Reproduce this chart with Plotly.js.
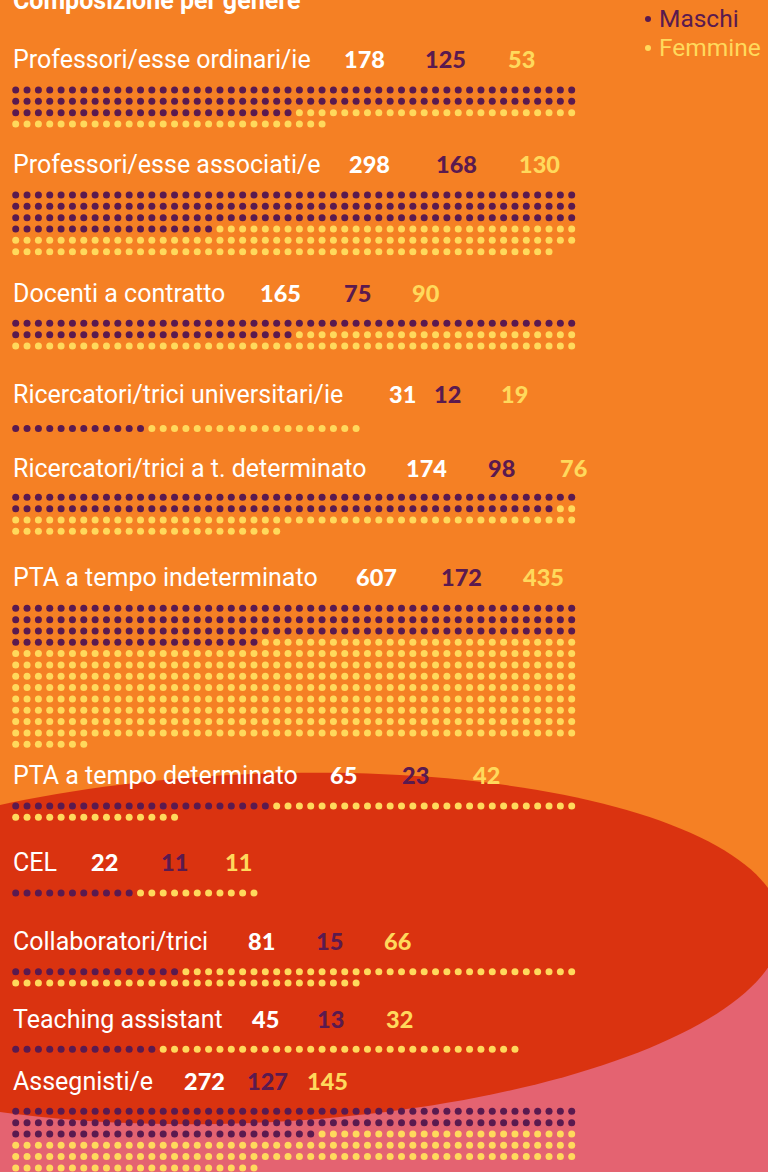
<!DOCTYPE html>
<html>
<head>
<meta charset="utf-8">
<script src="https://cdn.plot.ly/plotly-3.0.1.min.js"></script>
<style>
  html, body { margin: 0; padding: 0; background: #F58024; }
  #chart { width: 768px; height: 1172px; }
</style>
</head>
<body>
<div id="chart"></div>
<script>
// ---------- data ----------
const categories = [
  "Professori/esse ordinari/ie",
  "Professori/esse associati/e",
  "Docenti a contratto",
  "Ricercatori/trici universitari/ie",
  "Ricercatori/trici a t. determinato",
  "PTA a tempo indeterminato",
  "PTA a tempo determinato",
  "CEL",
  "Collaboratori/trici",
  "Teaching assistant",
  "Assegnisti/e"
];
const totali  = [178, 298, 165, 31, 174, 607, 65, 22, 81, 45, 272];
const maschi  = [125, 168, 75, 12, 98, 172, 23, 11, 15, 13, 127];
const femmine = [53, 130, 90, 19, 76, 435, 42, 11, 66, 32, 145];
// dots as drawn in the picture (Docenti a contratto shows only 75 yellow dots)
const dotMaschi  = [125, 168, 75, 12, 98, 172, 23, 11, 15, 13, 127];
const dotFemmine = [53, 130, 75, 19, 76, 435, 42, 11, 66, 32, 145];
const legendLabels = ["Maschi", "Femmine"];
const titleText = "Composizione per genere";

// ---------- layout constants (pixels) ----------
const W = 768, H = 1172;
const COLS = 50, DX = 11.347, DY = 11.33, X0 = 15.7;
const labelY = [59, 164, 293, 394, 468, 577, 775, 862, 941, 1019, 1081];
const dotY0  = [90, 195, 323.3, 428.5, 497.3, 608.3, 806, 893, 971.7, 1049.3, 1111.3];
const numX = [[343,424,507],[348,435,518],[259,343,411],[388,433,500],[405,487,559],
              [355,440,522],[329,401,472],[90,160,224],[247,315,383],[251,316,385],[183,246,306]];

const C_ORANGE = "#F58024", C_RED = "#DA3310", C_PINK = "#E46371";
const C_PURPLE = "#5A1A4F", C_YELLOW = "#FFD95C", C_WHITE = "#FFFFFF";

// ---------- dots ----------
const mx = [], my = [], fx = [], fy = [];
categories.forEach((c, i) => {
  const n = dotMaschi[i] + dotFemmine[i];
  for (let k = 0; k < n; k++) {
    const col = k % COLS, row = Math.floor(k / COLS);
    const x = X0 + col * DX, y = dotY0[i] + row * DY;
    if (k < dotMaschi[i]) { mx.push(x); my.push(y); } else { fx.push(x); fy.push(y); }
  }
});

const traces = [
  { type: "scatter", mode: "markers", x: mx, y: my, name: legendLabels[0],
    marker: { color: C_PURPLE, size: 7, line: { width: 0 } }, hoverinfo: "skip" },
  { type: "scatter", mode: "markers", x: fx, y: fy, name: legendLabels[1],
    marker: { color: C_YELLOW, size: 7, line: { width: 0 } }, hoverinfo: "skip" },
  // legend glyphs
  { type: "scatter", mode: "markers", x: [648, 648], y: [19, 48],
    marker: { color: [C_PURPLE, C_YELLOW], size: 6, line: { width: 0 } }, hoverinfo: "skip" }
];

// ---------- background shapes ----------
function ellipsePath() {
  const cx = 252, a = 530, b = 174.5;
  let d = "";
  for (let j = 0; j <= 200; j++) {
    const t = j / 200 * 2 * Math.PI;
    const x = cx + a * Math.cos(t);
    const y = 958.5 - 0.04 * x + b * Math.sin(t);
    d += (j === 0 ? "M" : "L") + x.toFixed(2) + "," + y.toFixed(2);
  }
  return d + "Z";
}
const shapes = [
  { type: "rect", xref: "x", yref: "y", x0: -20, x1: W + 20, y0: 930, y1: H + 20,
    fillcolor: C_PINK, line: { width: 0 }, layer: "below" },
  { type: "path", xref: "x", yref: "y", path: ellipsePath(),
    fillcolor: C_RED, line: { width: 0 }, layer: "below" }
];

// ---------- text ----------
const LABEL_FONT = { family: "Roboto, sans-serif", size: 25, color: C_WHITE, weight: 400 };
const NUM_FONT = { family: "Lato, sans-serif", size: 23.5, weight: 900 };
const annotations = [];
annotations.push({ xref: "paper", yref: "paper", x: 11 / W, y: 1, xanchor: "left", yanchor: "middle",
  text: titleText, showarrow: false, yshift: 0,
  font: { family: "Roboto, sans-serif", size: 25, color: C_WHITE, weight: 700 } });
categories.forEach((c, i) => {
  annotations.push({ xref: "x", yref: "y", x: 11, y: labelY[i], xanchor: "left", yanchor: "middle",
    text: c, showarrow: false, font: LABEL_FONT });
  const vals = [totali[i], maschi[i], femmine[i]];
  const cols = [C_WHITE, C_PURPLE, C_YELLOW];
  vals.forEach((v, j) => {
    annotations.push({ xref: "x", yref: "y", x: numX[i][j] - 1, y: labelY[i] - 0.5, xanchor: "left",
      yanchor: "middle", text: String(v), showarrow: false,
      font: Object.assign({}, NUM_FONT, { color: cols[j] }) });
  });
});
[[legendLabels[0], C_PURPLE, 18], [legendLabels[1], C_YELLOW, 47]].forEach(([t, col, y]) => {
  annotations.push({ xref: "x", yref: "y", x: 657, y: y, xanchor: "left", yanchor: "middle",
    text: t, showarrow: false,
    font: { family: "Roboto, sans-serif", size: 24.5, color: col, weight: 400 } });
});

const layout = {
  width: W, height: H,
  margin: { l: 0, r: 0, t: 0, b: 0, pad: 0 },
  paper_bgcolor: C_ORANGE, plot_bgcolor: "rgba(0,0,0,0)",
  showlegend: false,
  xaxis: { range: [0, W], visible: false, fixedrange: true },
  yaxis: { range: [H, 0], visible: false, fixedrange: true },
  shapes: shapes,
  annotations: annotations
};

Plotly.newPlot("chart", traces, layout, { staticPlot: true, displayModeBar: false });
</script>
</body>
</html>
